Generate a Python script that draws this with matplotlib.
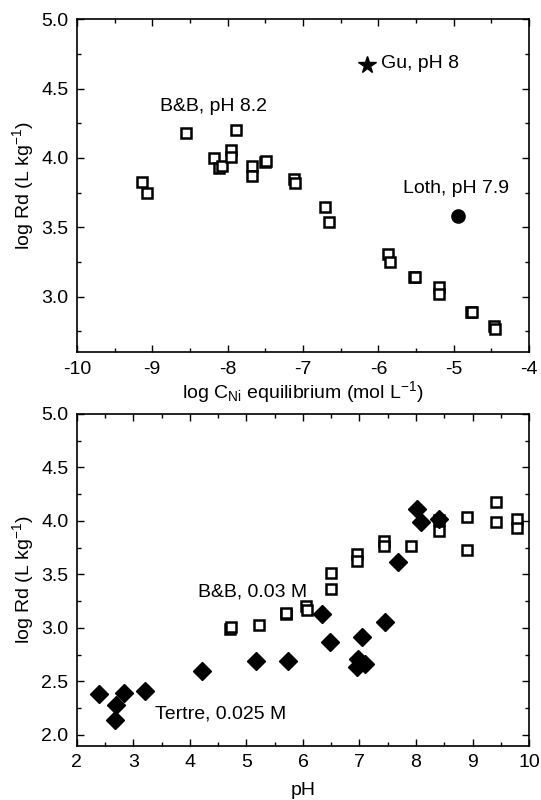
import matplotlib
matplotlib.use("Agg")
import matplotlib.pyplot as plt
from matplotlib.ticker import MultipleLocator, FormatStrFormatter

plt.rcParams['font.family'] = ['Liberation Sans', 'DejaVu Sans']
plt.rcParams['mathtext.default'] = 'regular'
plt.rcParams['axes.unicode_minus'] = False
plt.rcParams['font.size'] = 14

# Top panel: log Rd vs log C_Ni equilibrium
bb_conc_x = [-9.14, -9.07, -8.55, -7.89, -8.18, -8.11, -8.07, -7.95, -7.96, -7.67, -7.67,
             -7.50, -7.49, -7.12, -7.11, -6.71, -6.66, -5.87, -5.85, -5.53, -5.52,
             -5.20, -5.19, -4.77, -4.76, -4.47, -4.45]
bb_conc_y = [3.83, 3.75, 4.18, 4.20, 4.00, 3.93, 3.94, 4.06, 4.01, 3.94, 3.87,
             3.97, 3.98, 3.85, 3.82, 3.65, 3.54, 3.31, 3.25, 3.14, 3.14,
             3.07, 3.02, 2.89, 2.89, 2.79, 2.77]
gu_x, gu_y = [-6.15], [4.67]
loth_x, loth_y = [-4.94], [3.58]

# Bottom panel: log Rd vs pH
bb_ph_x = [4.71, 4.72, 5.22, 5.70, 5.70, 6.06, 6.07, 6.49, 6.50, 6.96, 6.96,
           7.43, 7.43, 7.91, 8.41, 8.40, 8.90, 8.90, 9.42, 9.42, 9.78, 9.78]
bb_ph_y = [2.99, 3.01, 3.03, 3.13, 3.14, 3.21, 3.17, 3.51, 3.36, 3.69, 3.63,
           3.81, 3.77, 3.77, 3.91, 4.01, 4.04, 3.73, 4.18, 3.99, 4.02, 3.93]
tertre_x = [2.39, 2.68, 2.69, 2.84, 3.21, 4.21, 5.17, 5.73, 6.33, 6.48, 6.96,
            6.98, 7.04, 7.10, 7.45, 7.68, 8.01, 8.09, 8.40]
tertre_y = [2.38, 2.14, 2.28, 2.39, 2.41, 2.60, 2.69, 2.69, 3.13, 2.87, 2.64,
            2.71, 2.92, 2.66, 3.06, 3.62, 4.11, 3.99, 4.02]

fig = plt.figure(figsize=(5.41, 8.0), dpi=100)
ax1 = fig.add_axes([0.142, 0.5596, 0.836, 0.4165])
ax2 = fig.add_axes([0.142, 0.0679, 0.836, 0.4146])

sq = dict(marker='s', ms=6.5, mfc='white', mec='black', mew=1.8, ls='none')

ax1.plot(bb_conc_x, bb_conc_y, **sq)
ax1.plot(gu_x, gu_y, marker='*', ms=13, color='black', ls='none')
ax1.plot(loth_x, loth_y, marker='o', ms=9.5, color='black', ls='none')
ax1.text(-5.96, 4.68, 'Gu, pH 8', va='center')
ax1.text(-8.90, 4.37, 'B&B, pH 8.2', va='center')
ax1.text(-5.67, 3.78, 'Loth, pH 7.9', va='center')
ax1.set_xlim(-10, -4)
ax1.set_ylim(2.6, 5.0)
ax1.xaxis.set_major_locator(MultipleLocator(1))
ax1.xaxis.set_minor_locator(MultipleLocator(0.5))
ax1.yaxis.set_major_locator(MultipleLocator(0.5))
ax1.yaxis.set_minor_locator(MultipleLocator(0.25))
ax1.set_xlabel('log C$_{Ni}$ equilibrium (mol L$^{-1}$)', labelpad=1)
ax1.set_ylabel('log Rd (L kg$^{-1}$)')
ax1.yaxis.set_major_formatter(FormatStrFormatter('%.1f'))

ax2.plot(bb_ph_x, bb_ph_y, **sq)
ax2.plot(tertre_x, tertre_y, marker='D', ms=9, color='black', ls='none')
ax2.text(4.15, 3.34, 'B&B, 0.03 M', va='center')
ax2.text(3.39, 2.20, 'Tertre, 0.025 M', va='center')
ax2.set_xlim(2, 10)
ax2.set_ylim(1.9, 5.0)
ax2.xaxis.set_major_locator(MultipleLocator(1))
ax2.xaxis.set_minor_locator(MultipleLocator(0.5))
ax2.yaxis.set_major_locator(MultipleLocator(0.5))
ax2.yaxis.set_minor_locator(MultipleLocator(0.25))
ax2.set_xlabel('pH', labelpad=8)
ax2.set_ylabel('log Rd (L kg$^{-1}$)')
ax2.yaxis.set_major_formatter(FormatStrFormatter('%.1f'))

for ax in (ax1, ax2):
    for s in ax.spines.values():
        s.set_linewidth(1.2)
    ax.tick_params(which='both', direction='in', top=True, right=True, width=1.0)
    ax.tick_params(which='major', length=5, pad=6)
    ax.tick_params(which='minor', length=3)

fig.savefig('out.png', dpi=100)
